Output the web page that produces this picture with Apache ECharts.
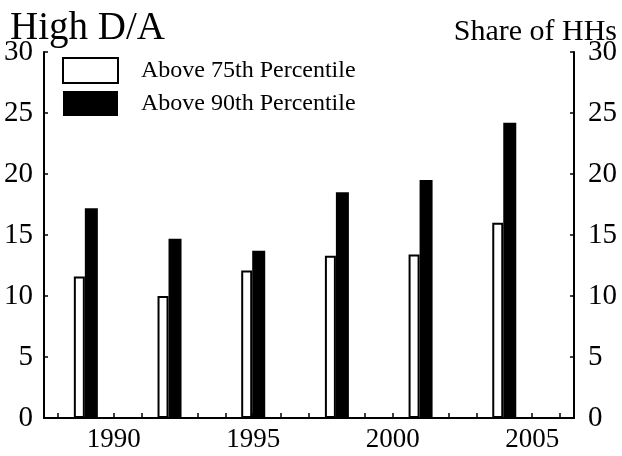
<!DOCTYPE html>
<html><head><meta charset="utf-8">
<script src="https://cdn.jsdelivr.net/npm/echarts@6/dist/echarts.min.js"></script>
<style>html,body{margin:0;padding:0;background:#fff}#c{width:622px;height:456px}</style>
</head><body><div id="c"></div>
<script>
const years = [1989, 1992, 1995, 1998, 2001, 2004];
const above75 = [11.6, 10.0, 12.1, 13.3, 13.4, 16.0];
const above90 = [17.2, 14.7, 13.7, 18.5, 19.5, 24.2];
const xTickYears = ['1988','1989','1990','1991','1992','1993','1994','1995','1996','1997','1998','1999','2000','2001','2002','2003','2004','2005','2006'];
const xLabelYears = [1990, 1995, 2000, 2005];
const seriesNames = ['Above 75th Percentile', 'Above 90th Percentile'];
const leftTitle = 'High D/A';
const rightTitle = 'Share of HHs';

const FONT = '"Liberation Serif", "DejaVu Serif", serif';
const chart = echarts.init(document.getElementById('c'), null, {renderer: 'canvas'});
const yAxisCommon = {
  type: 'value', min: 0, max: 30, interval: 5,
  axisLine: {show: true, lineStyle: {color: '#000', width: 2}},
  axisTick: {show: true, inside: true, length: 4, lineStyle: {color: '#000', width: 1.5}},
  splitLine: {show: false},
  axisLabel: {color: '#000', fontFamily: FONT, fontSize: 29}
};
chart.setOption({
  animation: false,
  backgroundColor: '#fff',
  grid: {left: 44, right: 48, top: 52, bottom: 38},
  xAxis: [{
    type: 'value', min: 1987.5, max: 2006.5,
    axisLine: {show: true, lineStyle: {color: '#000', width: 2}},
    axisTick: {show: false},
    axisLabel: {customValues: xLabelYears, formatter: v => String(v), color: '#000', fontFamily: FONT, fontSize: 27, margin: 8},
    splitLine: {show: false}
  }, {
    type: 'category', position: 'bottom', data: xTickYears, boundaryGap: true,
    axisLine: {show: false},
    axisTick: {show: true, inside: true, length: 5, alignWithLabel: true, interval: 0, lineStyle: {color: '#000', width: 1.5}},
    axisLabel: {show: false},
    splitLine: {show: false}
  }],
  yAxis: [
    Object.assign({}, yAxisCommon, {position: 'left', axisLabel: Object.assign({}, yAxisCommon.axisLabel, {margin: 11})}),
    Object.assign({}, yAxisCommon, {position: 'right', axisLabel: Object.assign({}, yAxisCommon.axisLabel, {margin: 14})})
  ],
  legend: {
    orient: 'vertical', left: 62, top: 57, padding: 0, itemWidth: 55, itemHeight: 25, itemGap: 7,
    icon: 'rect',
    textStyle: {color: '#000', fontFamily: FONT, fontSize: 24, padding: [8, 0, 0, 18]},
    data: seriesNames
  },
  graphic: [
    {type: 'text', left: 10, top: 9, style: {text: leftTitle, fill: '#000', font: '39px ' + FONT}},
    {type: 'text', right: 5, top: 17, style: {text: rightTitle, fill: '#000', font: '30px ' + FONT}}
  ],
  series: [
    {name: seriesNames[0], type: 'bar', barWidth: 11, barGap: '0%', xAxisIndex: 0, yAxisIndex: 0,
     itemStyle: {color: '#fff', borderColor: '#000', borderWidth: 2},
     data: years.map((y, i) => [y, above75[i]])},
    {name: seriesNames[1], type: 'bar', barWidth: 13, barGap: '0%', xAxisIndex: 0, yAxisIndex: 0,
     itemStyle: {color: '#000'},
     data: years.map((y, i) => [y, above90[i]])}
  ]
});
</script></body></html>
